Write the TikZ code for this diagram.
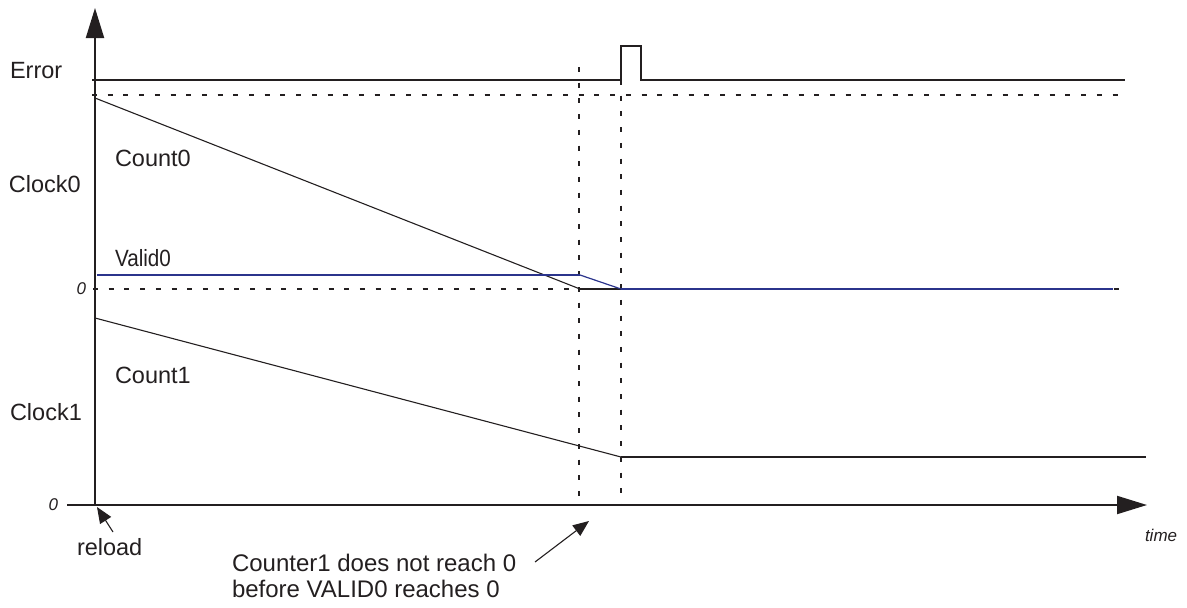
\documentclass[tikz,border=0pt]{standalone}
\usepackage{fontspec}
\setmainfont{Liberation Sans}
\usetikzlibrary{arrows.meta}
\definecolor{ink}{RGB}{35,31,32}
\definecolor{validblue}{RGB}{43,52,140}
\begin{document}
\begin{tikzpicture}[x=1pt,y=-1pt,
  every node/.style={inner sep=0pt,outer sep=0pt,text=ink,font=\fontsize{23.5}{28}\selectfont},
  lbl/.style={anchor=west},
  note/.style={anchor=west,font=\fontsize{24}{28}\selectfont},
  small/.style={font=\fontsize{17}{20}\selectfont\itshape},
  axisline/.style={draw=ink,line width=2pt,-{Triangle[length=30pt,width=18pt]}},
  sig/.style={draw=ink,line width=2pt},
  thin/.style={draw=ink,line width=1.1pt},
  dashline/.style={draw=ink,line width=1.8pt,dash pattern=on 5pt off 10.7pt},
  pointer/.style={draw=ink,line width=1.1pt,-{Triangle[length=16pt,width=13pt]}},
  validline/.style={draw=validblue,line width=2pt}]
\useasboundingbox (0,0) rectangle (1187,608);

% coordinates
\coordinate (O) at (95,505);
\coordinate (ytop) at (95,8);
\coordinate (xl) at (67,505);
\coordinate (xr) at (1147,505);

% dashed reference lines
\draw[dashline] (92,95) -- (1125,95);
\draw[dashline] (93,289) -- (1125,289);
\draw[dashline] (579,67) -- (579,505);
\draw[dashline] (621,80) -- (621,505);

% error signal
\draw[sig] (92,80) -- (621,80) -- (621,46) -- (641,46) -- (641,80) -- (1125,80);

% count0
\draw[thin] (95,98) -- (580,289);
\draw[sig] (580,289) -- (1113,289);

% valid0
\draw[validline] (97,275) -- (580,275);
\draw[validblue,line width=1.2pt] (580,275) -- (621,289);
\draw[validline] (621,289) -- (1113,289);

% count1
\draw[thin] (95,318) -- (621,457);
\draw[sig] (621,457) -- (1146,457);

% axes
\draw[axisline] (O) -- (ytop);
\draw[axisline] (xl) -- (xr);

% labels
\node[lbl] (err) at (10,71) {Error};
\node[lbl] (clk0) at (9,184) {Clock0};
\node[lbl] (cnt0) at (115,158.5) {Count0};
\node[lbl] (val0) at (115,258) {\scalebox{0.88}[1]{Valid0}};
\node[lbl] (cnt1) at (115,375) {Count1};
\node[lbl] (clk1) at (10,412.5) {Clock1};
\node[small,anchor=east] (z0) at (86,289) {0};
\node[small,anchor=east] (z1) at (58,505) {0};
\node[small,anchor=west] (time) at (1145,535) {time};
\node[lbl] (reload) at (77,547) {reload};
\node[note] (note1) at (232,563) {Counter1 does not reach 0};
\node[note] (note2) at (232,589) {before VALID0 reaches 0};

% pointers
\coordinate (rlt) at (113,532);
\coordinate (rlh) at (97,507);
\draw[pointer] (rlt) -- (rlh);
\coordinate (nt) at (535,562);
\coordinate (nh) at (589,521);
\draw[pointer] (nt) -- (nh);
\end{tikzpicture}
\end{document}
